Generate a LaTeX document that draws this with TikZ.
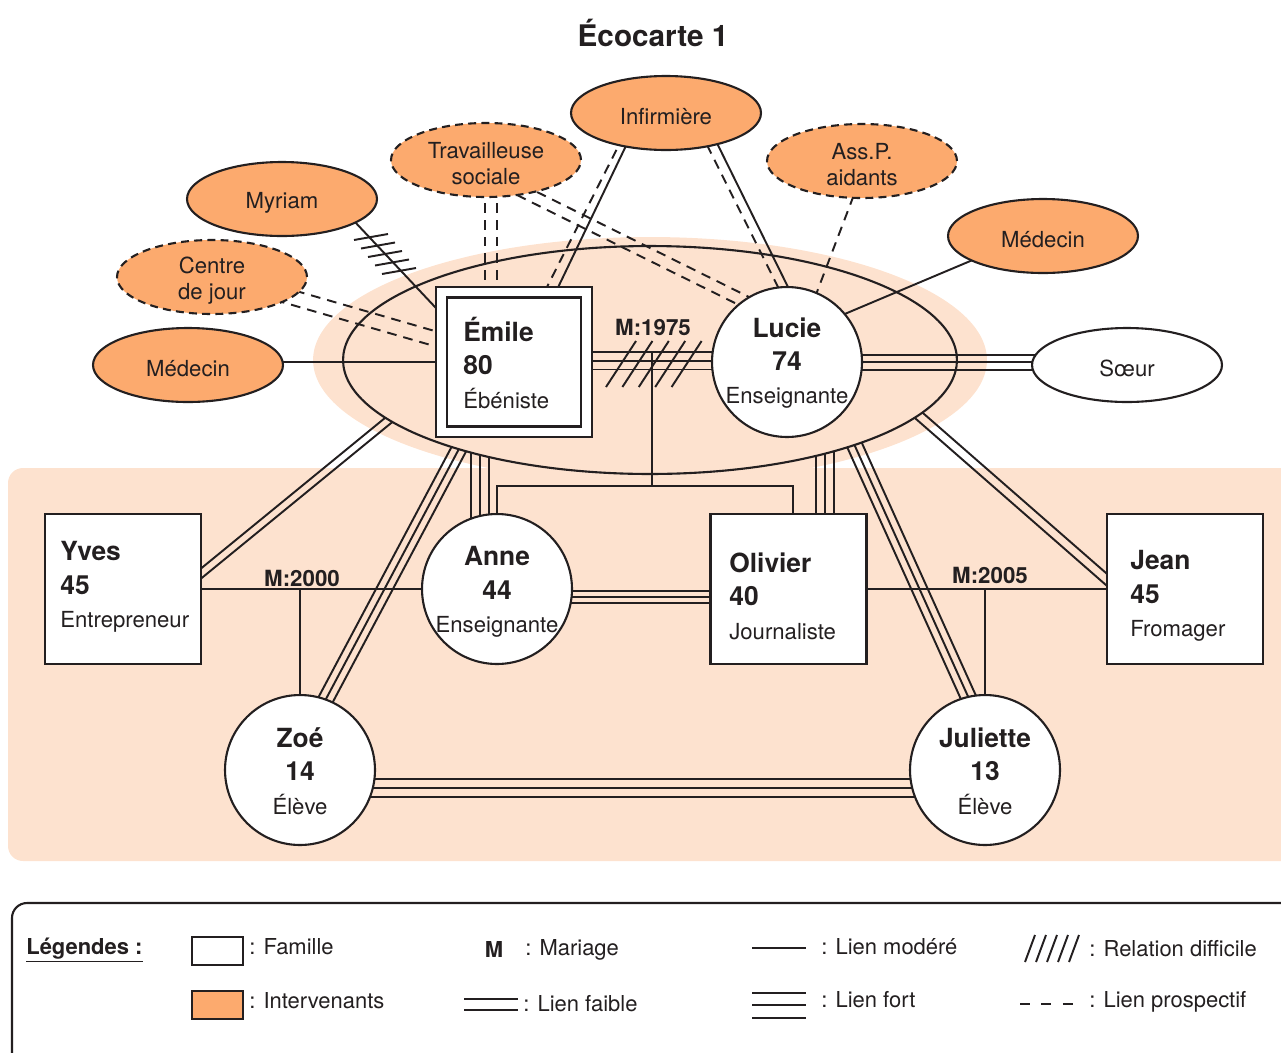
\documentclass[tikz,border=0pt]{standalone}
\usepackage{fontspec}
\setmainfont{TeX Gyre Heros}
\usetikzlibrary{calc,shapes.geometric}
\pgfdeclarelayer{bgl}
\pgfdeclarelayer{lnk}
\pgfsetlayers{bgl,lnk,main}
\definecolor{ink}{HTML}{231F20}
\definecolor{orng}{HTML}{FCAA6E}
\definecolor{peach}{HTML}{FDE2CF}
\newcommand\job[1]{{\mdseries\fontsize{12.6}{19}\selectfont #1}}
\newcommand\mlines[4][lk]{\foreach \dx/\dy in {#4}{\draw[#1] ($(#2)+(\dx,\dy)$) -- ($(#3)+(\dx,\dy)$);}}
\tikzset{
  lk/.style={draw=ink, line width=1.1pt},
  dsh/.style={lk, dash pattern=on 5.5pt off 4pt},
  itxt/.style={align=center, font=\fontsize{12.6}{14.7}\selectfont, text=ink, inner sep=0pt, yshift=-0.07cm},
  interv/.style={ellipse, draw=ink, line width=1.2pt, fill=orng, minimum width=3.8cm, minimum height=1.48cm, inner sep=0pt, label={[itxt]center:{#1}}},
  prosp/.style={interv={#1}, dash pattern=on 4.5pt off 3pt},
  pers/.style={circle, draw=ink, line width=1.2pt, fill=white, minimum size=3cm, inner sep=0pt},
  fam/.style={rectangle, draw=ink, line width=1.2pt, fill=white, minimum width=3.12cm, minimum height=3cm, inner sep=0pt},
  ptxt/.style={align=center, text=ink, font=\bfseries\fontsize{15}{19}\selectfont, inner sep=0pt},
  ftxt/.style={align=left, text=ink, font=\bfseries\fontsize{15}{19}\selectfont, inner sep=0pt, anchor=west},
  mlab/.style={text=ink, font=\bfseries\fontsize{12.7}{14}\selectfont, inner sep=0pt},
  leg/.style={text=ink, font=\fontsize{12.5}{14}\selectfont, inner sep=0pt, anchor=west},
}
\begin{document}
\begin{tikzpicture}[x=0.02cm,y=-0.02cm]
\useasboundingbox (0,0) rectangle (1281,1052);

\begin{pgfonlayer}{bgl}
  \fill[peach, rounded corners=0.3cm] (8,468) rectangle (1340,861);
  \fill[peach] (650,360) ellipse [x radius=6.74cm, y radius=2.46cm];
  \draw[ink, line width=1.2pt, rounded corners=0.3cm] (12,903) rectangle (1340,1120);
\end{pgfonlayer}

% title
\node[text=ink, font=\bfseries\fontsize{16.9}{20}\selectfont] (titre) at (653,33) {Écocarte 1};

% household ellipse
\node[ellipse, draw=ink, line width=1.2pt, minimum width=12.28cm, minimum height=4.56cm, inner sep=0pt] (Foyer) at (650,360) {};

% intervenants
\node[interv={Myriam}] (Myriam) at (282,199) {};
\node[prosp={Centre\\de jour}] (CJ) at (212,277) {};
\node[interv={Médecin}] (MedG) at (188,365) {};
\node[prosp={Travailleuse\\sociale}] (Trav) at (486,160) {};
\node[interv={Infirmière}] (Inf) at (666,113) {};
\node[prosp={Ass.P.\\aidants}] (Ass) at (862,161) {};
\node[interv={Médecin}] (MedD) at (1043,236) {};
\node[interv={Sœur}, fill=white] (Soeur) at (1127,365) {};

% family
\node[fam, double=white, double distance=5pt, minimum width=2.9cm, minimum height=2.8cm] (Emile) at (514,362) {};
\node[ftxt] (EmileT) at (463,363) {Émile\\80\\\job{Ébéniste}};
\node[pers] (Lucie) at (787,362) {};
\node[ptxt] (LucieT) at (787,363) {Lucie\\74\\\job{Enseignante}};
\node[pers] (Anne) at (497,589) {};
\node[ptxt] (AnneT) at (497,592) {Anne\\44\\\job{Enseignante}};
\node[fam] (Yves) at (123,589) {};
\node[ftxt] (YvesT) at (60,587) {Yves\\45\\\job{Entrepreneur}};
\node[fam] (Olivier) at (788.5,589) {};
\node[ftxt] (OlivierT) at (729,596) {Olivier\\40\\\job{Journaliste}};
\node[fam] (Jean) at (1185,589) {};
\node[ftxt] (JeanT) at (1130,596) {Jean\\45\\\job{Fromager}};
\node[pers] (Zoe) at (300,770) {};
\node[ptxt] (ZoeT) at (300,771) {Zoé\\14\\\job{Élève}};
\node[pers] (Juliette) at (985,770) {};
\node[ptxt] (JulietteT) at (985,771) {Juliette\\13\\\job{Élève}};

% marriage labels
\node[mlab] (m1975) at (653,327) {M:1975};
\node[mlab] (m2000) at (302,578) {M:2000};
\node[mlab] (m2005) at (990,575) {M:2005};

\begin{pgfonlayer}{lnk}
  % links to the household ellipse (kept outside it)
  \begin{scope}[even odd rule]
    \clip (-50,-50) rectangle (1350,1150) (650,360) ellipse [x radius=6.14cm, y radius=2.28cm];
    \coordinate (yvA) at (187,585); \coordinate (yvB) at (418,396);
    \mlines{yvA}{yvB}{-2.5/-3, 2.5/3}
    \coordinate (zoA) at (314,721.5); \coordinate (zoB) at (477,415);
    \mlines{zoA}{zoB}{-6.6/-3.5, 0/0, 6.6/3.5}
    \coordinate (anA) at (480,540); \coordinate (anB) at (480,430);
    \mlines{anA}{anB}{-9/0, 0/0, 9/0}
    \coordinate (olA) at (825,540); \coordinate (olB) at (825,420);
    \mlines{olA}{olB}{-9/0, 0/0, 9/0}
    \coordinate (juA) at (980,723); \coordinate (juB) at (838.5,409.6);
    \mlines{juA}{juB}{-6.9/3.1, 0/0, 6.9/-3.1}
    \coordinate (jeA) at (1122,593); \coordinate (jeB) at (892,392);
    \mlines{jeA}{jeB}{3/-3.4, -3/3.4}
  \end{scope}

  % intervenants links
  \coordinate (myA) at (339,205); \coordinate (myB) at (443,315.5);
  \draw[lk] (myA) -- (myB);
  \coordinate (cjA) at (277,293); \coordinate (cjB) at (442,340.7);
  \mlines[dsh]{cjA}{cjB}{2/-7, -2/7}
  \draw[lk] (MedG.center |- Emile.center) -- (Emile.center);
  \coordinate (trA) at (491,170); \coordinate (trB) at (491,300);
  \mlines[dsh]{trA}{trB}{-6/0, 6/0}
  \coordinate (tlA) at (504.6,182.4); \coordinate (tlB) at (750,304);
  \mlines[dsh]{tlA}{tlB}{-2.6/5.2, 2.6/-5.2}
  \coordinate (ieA) at (635,127); \coordinate (ieB) at (552,300);
  \draw[lk] (ieA) -- (ieB);
  \coordinate (idA) at (624,135); \coordinate (idB) at (540.4,300);
  \draw[dsh] (idA) -- (idB);
  \coordinate (ilA) at (708,125); \coordinate (ilB) at (794.4,300);
  \draw[lk] (ilA) -- (ilB);
  \coordinate (jdA) at (699.5,130); \coordinate (jdB) at (784.5,300);
  \draw[dsh] (jdA) -- (jdB);
  \coordinate (asA) at (859.6,180); \coordinate (asB) at (812,305);
  \draw[dsh] (asA) -- (asB);
  \coordinate (mdA) at (990,252.7); \coordinate (mdB) at (830,320.2);
  \draw[lk] (mdA) -- (mdB);

  % family links
  \mlines{Emile.center}{Lucie.center}{0/-10, 0/-1, 0/7.5}
  \coordinate (soW) at (Lucie.center -| Soeur.center);
  \mlines{Lucie.center}{soW}{0/-7, 0/0, 0/8}
  \coordinate (mar) at (652,353);
  \coordinate (famC) at (652,486);
  \coordinate (famR) at (793,486);
  \draw[lk] (mar) -- (famC);
  \draw[lk] (Anne.center) -- (Anne.center |- famC) -- (famR) -- (famR |- Olivier.center);
  \coordinate (olW) at (Anne.center -| Olivier.center);
  \mlines{Anne.center}{olW}{0/2, 0/8, 0/14}
  \draw[lk] (Yves.center) -- (Anne.center);
  \draw[lk] (Zoe.center |- Yves.center) -- (Zoe.center);
  \draw[lk] (Olivier.center) -- (Jean.center);
  \draw[lk] (Juliette.center |- Jean.center) -- (Juliette.center);
  \coordinate (juW) at (Zoe.center -| Juliette.center);
  \mlines{Zoe.center}{juW}{0/9, 0/18, 0/27}
\end{pgfonlayer}

% difficult relation hatches
\foreach \i in {0,...,4}{
  \draw[lk] (606+16.4*\i,387) -- ++(30,-46);
  \draw[lk] (354+7*\i,240+8.5*\i) -- ++(34,-6);
}

% legend
\node[leg, font=\bfseries\fontsize{12.5}{14}\selectfont] (legT) at (26,950) {\underline{Légendes :}};
\node[draw=ink, line width=1.2pt, fill=white, minimum width=1.02cm, minimum height=0.56cm, inner sep=0pt] (legFam) at (217.5,951) {};
\node[leg] (legFamT) at (249,947) {: Famille};
\node[draw=ink, line width=1.2pt, fill=orng, minimum width=1.02cm, minimum height=0.56cm, inner sep=0pt] (legInt) at (217.5,1005) {};
\node[leg] (legIntT) at (249,1001) {: Intervenants};
\node[mlab, font=\bfseries\fontsize{12.5}{14}\selectfont] (legM) at (494,949) {M};
\node[leg] (legMT) at (525,950) {: Mariage};
\draw[lk] (464,999) -- (518,999);
\draw[lk] (464,1010) -- (518,1010);
\node[leg] (legFaT) at (523,1004) {: Lien faible};
\draw[lk] (752,948) -- (806,948);
\node[leg] (legMoT) at (821,947) {: Lien modéré};
\draw[lk] (752,993) -- (806,993);
\draw[lk] (752,1005) -- (806,1005);
\draw[lk] (752,1018) -- (806,1018);
\node[leg] (legFoT) at (821,1000) {: Lien fort};
\foreach \i in {0,...,4}{\draw[lk] (1025+11*\i,962) -- ++(10,-27);}
\node[leg] (legReT) at (1089,949) {: Relation difficile};
\draw[lk, dash pattern=on 5.7pt off 6.5pt] (1020,1004) -- (1076,1004);
\node[leg] (legPrT) at (1089,1002) {: Lien prospectif};
\end{tikzpicture}
\end{document}
